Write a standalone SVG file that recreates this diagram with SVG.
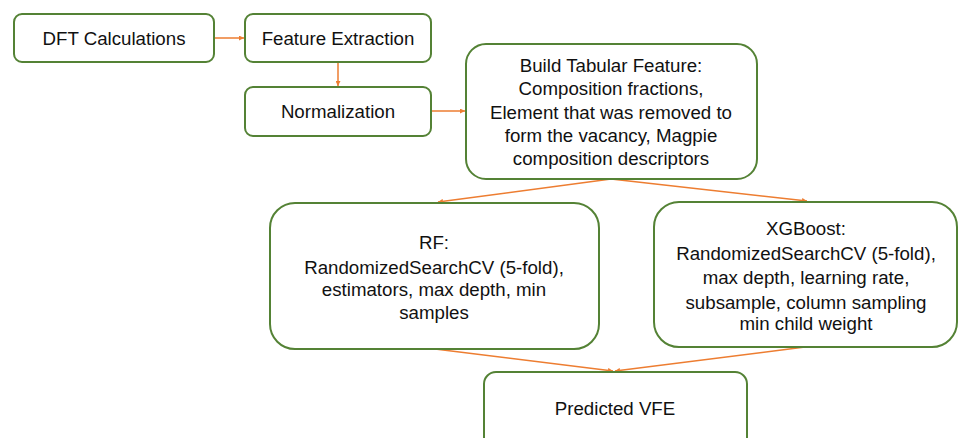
<svg xmlns="http://www.w3.org/2000/svg" width="958" height="438" viewBox="0 0 958 438">
<defs>
<style>
.box{fill:#fff;stroke:#548235;stroke-width:2}
.t{font-family:"Liberation Sans",Arial,sans-serif;font-size:18.7px;fill:#111;text-anchor:middle}
.c{stroke:#ED7D31;stroke-width:1.5;fill:none;marker-end:url(#ah)}
</style>
<marker id="ah" viewBox="0 0 10 10" refX="10" refY="5" markerWidth="5" markerHeight="5" orient="auto" markerUnits="userSpaceOnUse">
<path d="M0,0L10,5L0,10z" fill="#ED7D31"/>
</marker>
</defs>
<rect width="958" height="438" fill="#fff"/>
<g id="connectors">
<line class="c" x1="214" y1="38" x2="244" y2="38"/>
<line class="c" x1="338" y1="62" x2="338" y2="86"/>
<line class="c" x1="431" y1="111" x2="465" y2="111"/>
<line class="c" x1="611" y1="179" x2="438" y2="202"/>
<line class="c" x1="611" y1="179" x2="807" y2="201"/>
<line class="c" x1="435" y1="349" x2="613" y2="371"/>
<line class="c" x1="805" y1="347" x2="615" y2="371"/>
</g>
<g id="dft">
<rect class="box" x="14" y="14" width="200" height="48" rx="8"/>
<text class="t" x="114" y="45">DFT Calculations</text>
</g>
<g id="feature">
<rect class="box" x="245" y="14" width="186" height="48" rx="8"/>
<text class="t" x="338" y="45">Feature Extraction</text>
</g>
<g id="norm">
<rect class="box" x="245" y="87" width="186" height="49" rx="8"/>
<text class="t" x="338" y="118">Normalization</text>
</g>
<g id="build">
<rect class="box" x="466" y="44" width="291" height="135" rx="20"/>
<text class="t" x="611" y="72">Build Tabular Feature:</text>
<text class="t" x="611" y="95">Composition fractions,</text>
<text class="t" x="611" y="119">Element that was removed to</text>
<text class="t" x="611" y="142">form the vacancy, Magpie</text>
<text class="t" x="611" y="165">composition descriptors</text>
</g>
<g id="rf">
<rect class="box" x="270" y="203" width="329" height="146" rx="25"/>
<text class="t" x="434" y="249">RF:</text>
<text class="t" x="434" y="274">RandomizedSearchCV (5-fold),</text>
<text class="t" x="434" y="296">estimators, max depth, min</text>
<text class="t" x="434" y="319">samples</text>
</g>
<g id="xgb">
<rect class="box" x="654" y="202" width="303" height="145" rx="25"/>
<text class="t" x="806" y="235">XGBoost:</text>
<text class="t" x="806" y="260">RandomizedSearchCV (5-fold),</text>
<text class="t" x="806" y="284">max depth, learning rate,</text>
<text class="t" x="806" y="309">subsample, column sampling</text>
<text class="t" x="806" y="330">min child weight</text>
</g>
<g id="vfe">
<rect class="box" x="484" y="372" width="263" height="80" rx="12"/>
<text class="t" x="615" y="415">Predicted VFE</text>
</g>
</svg>
